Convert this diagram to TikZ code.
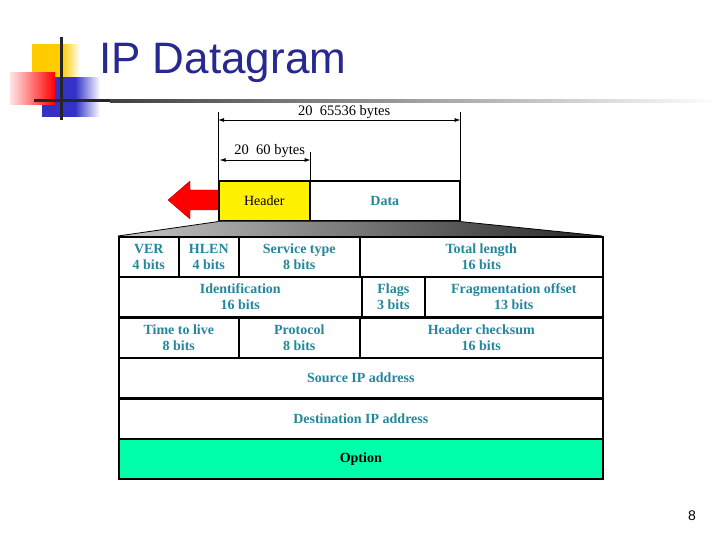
\documentclass[tikz,border=0pt]{standalone}
\usepackage{fontspec}
\setmainfont{Liberation Serif}
\newfontfamily\titlefont{Liberation Sans}
\usetikzlibrary{arrows.meta, positioning, calc}

\definecolor{titleblue}{RGB}{40,40,145}
\definecolor{fieldtxt}{RGB}{35,135,155}
\definecolor{optgreen}{RGB}{0,255,170}
\definecolor{decoyellow}{RGB}{255,204,0}
\definecolor{decoblue}{RGB}{50,50,200}

\tikzset{
  field/.style={draw, line width=1.6pt, anchor=north west, inner sep=0pt,
    align=center, text=fieldtxt, minimum height=40,
    font=\bfseries\fontsize{14}{16}\selectfont},
  dimline/.style={line width=0.8pt},
  dimarrow/.style={line width=0.8pt, {Latex[length=6pt,width=4pt]}-{Latex[length=6pt,width=4pt]}},
  dimlabel/.style={font=\fontsize{14.5}{16}\selectfont, inner sep=1pt}
}

\begin{document}
\begin{tikzpicture}[x=1pt, y=-1pt]
  \useasboundingbox (0,0) rectangle (720,540);
  % Title decoration
  \shade[left color=decoyellow, right color=decoyellow] (32,45) rectangle (62,80);
  \shade[left color=decoyellow, right color=white] (62,45) rectangle (80,80);
  \shade[left color=decoblue, right color=decoblue] (42,78) rectangle (75,117);
  \shade[left color=decoblue, right color=white] (75,78) rectangle (100,117);
  \shade[left color=red!10, right color=red] (10,73) rectangle (55,105);
  \shade[left color=black!75, right color=white] (110,100) rectangle (720,102.5);
  \draw[line width=3pt, black!85] (34,101) -- (110,101);
  \draw[line width=3pt, black!85] (61,37) -- (61,120);
  \node[anchor=base west, inner sep=0pt, text=titleblue,
        font=\titlefont\fontsize{44}{46}\selectfont] (title) at (99,74) {IP Datagram};

  % Header and data boxes
  \node[draw, line width=1.6pt, fill=yellow, anchor=north west, inner sep=0pt,
        minimum width=91, minimum height=40, font=\fontsize{14}{16}\selectfont]
        (header) at (218,180) {Header};
  \node[draw, line width=1.6pt, anchor=north west, inner sep=0pt, text=fieldtxt,
        minimum width=150, minimum height=40, font=\bfseries\fontsize{14}{16}\selectfont]
        (data) at (309,180) {Data};

  % Dimension lines
  \draw[dimline] (header.north west) -- ++(0,-68) coordinate (lefttop);
  \draw[dimline] (data.north east) -- ++(0,-68) coordinate (righttop);
  \draw[dimline] (header.north east) -- ++(0,-28) coordinate (midtop);
  \draw[dimarrow] ($(lefttop)+(0,8)$) coordinate (a1) -- ($(righttop)+(0,8)$) coordinate (a2);
  \node[dimlabel, above=0pt of $(a1)!0.52!(a2)$] (totlabel) {20\enspace 65536 bytes};
  \draw[dimarrow] ($(midtop)+(-91,8)$) coordinate (b1) -- ($(midtop)+(0,8)$) coordinate (b2);
  \node[dimlabel, above=1pt of $(b1)!0.55!(b2)$] (hdrlabel) {20\enspace 60 bytes};

  % Red arrow
  \draw[fill=red, draw=red!70!black, line width=0.4pt]
    (header.west |- 0,190) -- (190,190) -- (190,181) -- (168,200)
    -- (190,219) -- (190,210) -- (header.west |- 0,210);

  % Fan-out to the full header
  \shade[left color=gray!45, middle color=gray!15, right color=black!85]
    (header.south west) -- (data.south east) -- (602,236) -- (118,236) -- cycle;
  \draw[line width=0.8pt] (118,236) -- (header.south west);
  \draw[line width=0.8pt] (602,236) -- (data.south east);

  % Header fields
  \node[field, minimum width=60] (ver) at (118,236) {VER\\4 bits};
  \node[field, minimum width=60] (hlen) at (178,236) {HLEN\\4 bits};
  \node[field, minimum width=121] (service) at (238,236) {Service type\\8 bits};
  \node[field, minimum width=243] (totlen) at (359,236) {Total length\\16 bits};
  \node[field, minimum width=243] (ident) at (118,276) {Identification\\16 bits};
  \node[field, minimum width=63] (flags) at (361,276) {Flags\\3 bits};
  \node[field, minimum width=178] (fragoff) at (424,276) {Fragmentation offset\\13 bits};
  \node[field, minimum width=120] (ttl) at (118,317) {Time to live\\8 bits};
  \node[field, minimum width=121] (proto) at (238,317) {Protocol\\8 bits};
  \node[field, minimum width=243] (checksum) at (359,317) {Header checksum\\16 bits};
  \node[field, minimum width=484] (srcip) at (118,357) {Source IP address};
  \node[field, minimum width=484] (dstip) at (118,398) {Destination IP address};
  \node[field, minimum width=484, fill=optgreen, text=black] (option) at (118,438) {Option};

  % Page number
  \node[font=\titlefont\fontsize{14}{16}\selectfont, inner sep=0pt] (pagenum) at (692,516) {8};
\end{tikzpicture}
\end{document}
